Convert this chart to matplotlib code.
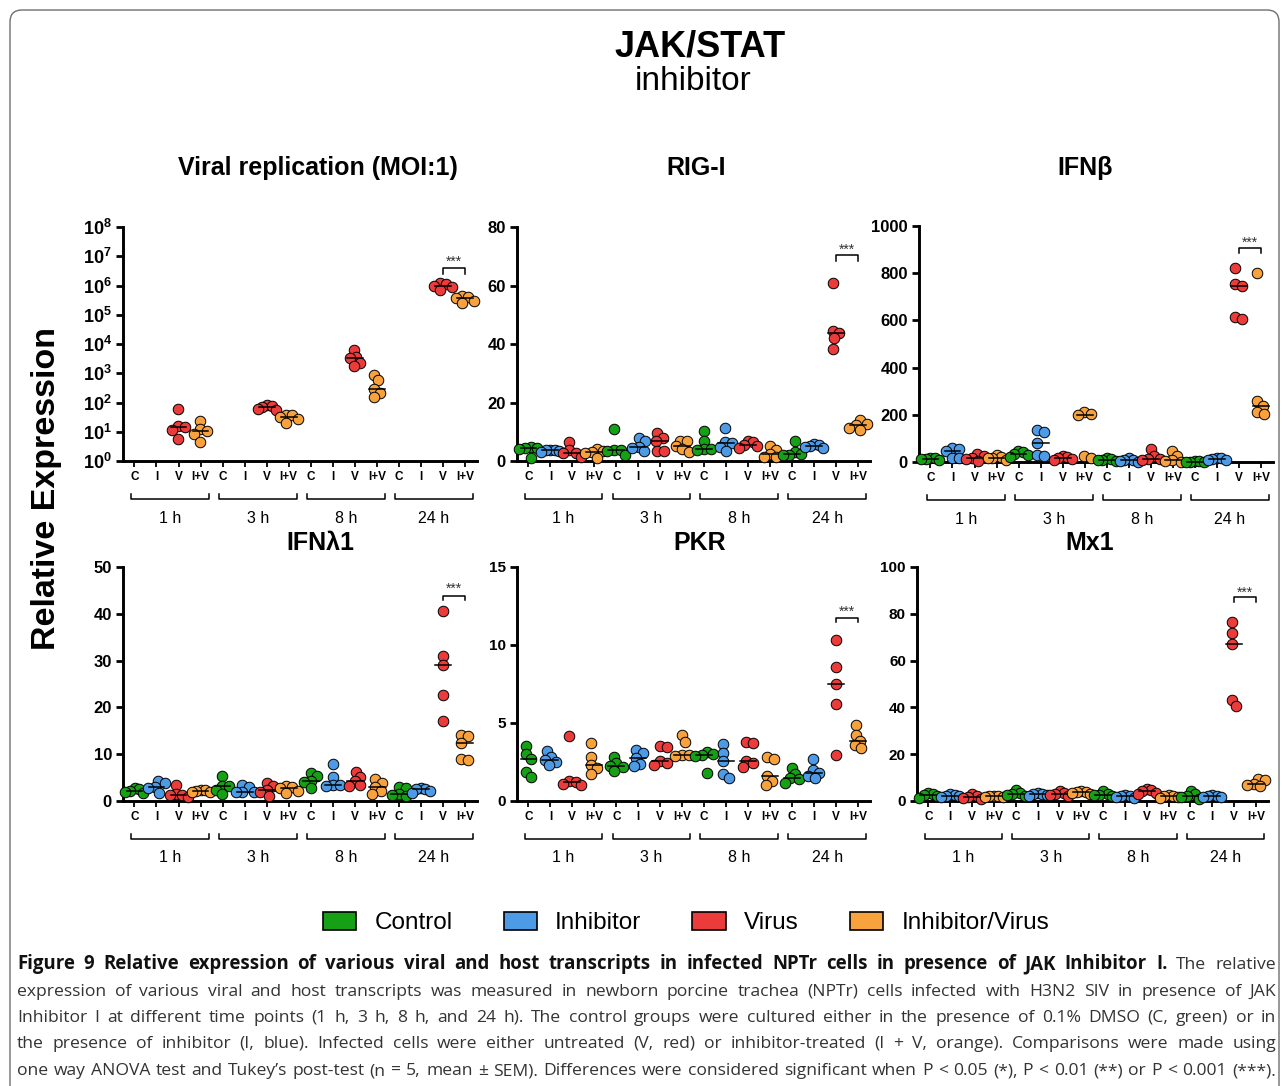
import numpy as np
import matplotlib.pyplot as plt
from matplotlib.patches import FancyBboxPatch, Patch
from matplotlib.transforms import IdentityTransform

plt.rcParams['font.family'] = ['Liberation Sans', 'DejaVu Sans']
plt.rcParams['mathtext.fontset'] = 'custom'
plt.rcParams['mathtext.bf'] = 'Liberation Sans:bold'
plt.rcParams['mathtext.rm'] = 'Liberation Sans'

# ---- data (4 time points x C, I, V, I+V) ----
groups = ['C', 'I', 'V', 'I+V']
times = ['1 h', '3 h', '8 h', '24 h']
colors = ['#16a016', '#4d9be6', '#ec3b3b', '#f8a23e']
legend_labels = ['Control', 'Inhibitor', 'Virus', 'Inhibitor/Virus']

viral = [[], [], [62, 15.5, 14.7, 11.8, 5.5], [24, 12, 10.5, 8.5, 4.3],
         [], [], [85, 75, 68, 62, 55], [38, 36, 33, 28, 20],
         [], [], [6200, 3700, 3200, 2300, 1800], [870, 570, 300, 215, 150],
         [], [], [1.26e6, 1.1e6, 1.0e6, 8.7e5, 7.1e5], [4.4e5, 4.0e5, 3.6e5, 2.95e5, 2.5e5]]

rig_i = [[4.8, 4.6, 4.3, 4.2, 1.0], [3.9, 3.8, 3.6, 3.5, 3.2], [6.6, 3.7, 2.9, 2.6, 1.4], [4.1, 3.5, 3.0, 2.8, 1.1],
         [10.9, 3.8, 3.6, 3.4, 1.9], [8.0, 6.7, 4.8, 4.5, 3.3], [9.5, 7.9, 7.0, 3.5, 3.4], [6.8, 6.7, 5.0, 4.0, 3.0],
         [10.2, 6.7, 4.2, 4.0, 3.8], [11.3, 6.6, 6.3, 4.9, 3.4], [6.7, 6.6, 5.4, 5.0, 4.6], [5.1, 3.8, 2.4, 1.5, 1.2],
         [6.9, 3.2, 2.4, 2.1, 1.9], [5.9, 5.5, 5.2, 4.9, 4.6], [60.8, 44.3, 43.8, 42.0, 38.3], [13.9, 12.8, 12.2, 11.2, 10.5]]

ifnb = [[18, 15, 14, 12, 10], [59, 54, 45, 17, 15], [36, 24, 19, 12, 4], [31, 20, 17, 15, 10],
        [46, 43, 36, 31, 22], [136, 127, 81, 28, 27], [25, 20, 18, 12, 8], [210, 203, 198, 27, 16],
        [15, 12, 10, 8, 5], [18, 10, 8, 4, 2], [53, 26, 14, 13, 10], [47, 27, 8, 4, 2],
        [5, 3, 2, 2, 1], [19, 15, 12, 10, 8], [824, 756, 744, 613, 606], [799, 258, 239, 211, 204]]

ifnl1 = [[2.7, 2.5, 2.2, 2.0, 1.7], [4.3, 3.9, 3.0, 2.8, 1.8], [3.4, 1.5, 1.3, 1.2, 0.9], [2.4, 2.3, 2.2, 2.0, 1.9],
         [5.3, 3.3, 3.1, 2.4, 1.4], [3.5, 3.0, 2.0, 1.9, 1.9], [3.9, 3.1, 2.4, 1.9, 1.0], [3.3, 3.0, 2.8, 2.2, 1.8],
         [6.0, 5.4, 4.3, 4.0, 2.8], [7.9, 5.1, 3.5, 3.4, 3.3], [6.3, 5.1, 4.2, 3.4, 3.3], [4.6, 3.9, 2.9, 2.1, 1.6],
         [3.0, 2.7, 1.4, 1.3, 1.0], [2.8, 2.6, 2.5, 2.2, 1.7], [40.7, 30.9, 29.0, 22.7, 17.2], [14.0, 13.8, 12.4, 9.0, 8.7]]

pkr = [[3.53, 2.99, 2.71, 1.84, 1.52], [3.18, 2.8, 2.63, 2.5, 2.29], [4.17, 1.3, 1.25, 1.1, 1.0], [3.7, 2.84, 2.33, 2.09, 1.71],
       [2.82, 2.41, 2.26, 2.2, 1.9], [3.27, 3.1, 2.78, 2.4, 2.24], [3.5, 3.48, 2.56, 2.45, 2.33], [4.2, 3.78, 2.95, 2.95, 2.9],
       [3.16, 3.0, 2.95, 2.9, 1.82], [3.65, 3.06, 2.56, 1.75, 1.5], [3.76, 3.72, 2.54, 2.44, 2.16], [2.8, 2.67, 1.62, 1.28, 1.05],
       [2.14, 1.75, 1.47, 1.39, 1.15], [2.67, 1.97, 1.82, 1.62, 1.47], [10.32, 8.57, 7.52, 6.22, 2.97], [4.89, 4.23, 3.87, 3.57, 3.4]]

mx1 = [[3.4, 3.0, 2.5, 2.0, 1.2], [2.8, 2.6, 2.3, 2.0, 1.5], [2.9, 2.3, 1.8, 1.4, 1.0], [2.3, 2.2, 2.1, 1.9, 1.6],
       [4.6, 3.5, 3.2, 2.5, 2.0], [3.5, 3.2, 3.0, 2.6, 2.2], [4.3, 3.5, 3.0, 2.7, 2.0], [4.3, 3.9, 3.8, 3.5, 3.2],
       [4.1, 3.0, 2.6, 2.4, 2.0], [2.5, 2.2, 2.0, 1.8, 1.3], [5.3, 4.7, 4.2, 3.3, 2.8], [2.5, 2.3, 2.2, 1.5, 1.2],
       [4.4, 2.9, 2.2, 1.8, 1.0], [2.5, 2.2, 2.0, 1.8, 1.6], [76.5, 72.0, 67.0, 43.0, 40.6], [9.4, 8.8, 7.1, 6.9, 6.3]]

W, H = 1282, 1086
fig = plt.figure(figsize=(W / 100, H / 100), dpi=100)


def swarm(ax, xc, vals, d=7.0, cap=9.0):
    # small beeswarm in pixel space, squeezed to +-cap px, returns x in data units
    tr = ax.transData
    pts = tr.transform(np.column_stack([np.full(len(vals), xc), vals]))
    ppu = tr.transform((xc + 1, vals[0]))[0] - tr.transform((xc, vals[0]))[0]
    placed = []
    for y in pts[:, 1]:
        cands = [0.0]
        for px, py in placed:
            dy = abs(y - py)
            if dy < d:
                dx = np.sqrt(d * d - dy * dy)
                cands += [px - dx, px + dx]
        cands.sort(key=lambda c: (abs(c), -c))
        for c in cands:
            if all((c - px) ** 2 + (y - py) ** 2 >= d * d - 1e-6 for px, py in placed):
                break
        placed.append((c, y))
    off = np.array([p[0] for p in placed])
    off = off - (off.max() + off.min()) / 2
    m = np.abs(off).max()
    if m > cap:
        off = off * cap / m
    return xc + off / ppu


def panel(rect, title, title_xy, data, ylim, yticks, sig, log=False, ylabels=None, tfs=12):
    l, t, r, b = rect
    ax = fig.add_axes([l / W, 1 - b / H, (r - l) / W, (b - t) / H])
    if log:
        ax.set_yscale('log')
    ax.set_xlim(-0.52, 15.55)
    ax.set_ylim(*ylim)
    for s in ['top', 'right']:
        ax.spines[s].set_visible(False)
    for s in ['left', 'bottom']:
        ax.spines[s].set_linewidth(2.1)
    ax.set_yticks(yticks)
    ax.minorticks_off()
    if ylabels is not None:
        ax.set_yticklabels(ylabels)
    ax.tick_params(axis='y', length=5, width=2, labelsize=tfs, pad=3)
    for lab in ax.get_yticklabels():
        lab.set_fontweight('bold')
    ax.set_xticks(range(16))
    ax.set_xticklabels(groups * 4, fontsize=8.5, fontweight='bold')
    ax.tick_params(axis='x', length=4, width=1.3, pad=3)
    ax.patch.set_alpha(0)

    for i, vals in enumerate(data):
        if not vals:
            continue
        xs = swarm(ax, i, vals)
        ax.plot(xs, vals, 'o', ms=7.6, mfc=colors[i % 4], mec='black', mew=0.7,
                ls='', clip_on=False, zorder=3)
        med = np.median(vals)
        ax.plot([i - 0.36, i + 0.36], [med, med], color='black', lw=1.1, zorder=4,
                clip_on=False)

    # time brackets
    xt = ax.get_xaxis_transform()
    hb = (b - t)
    yb = -38 / hb
    for g in range(4):
        x0, x1 = 4 * g - 0.17, 4 * g + 3.37
        ax.plot([x0, x0, x1, x1], [yb + 5 / hb, yb, yb, yb + 5 / hb], color='black',
                lw=1.1, transform=xt, clip_on=False)
        ax.text(4 * g + 1.6, yb - 19 / hb, times[g], transform=xt, ha='center',
                va='center', fontsize=11.5)

    # significance V vs I+V at 24 h
    ys, ytk, ystar = sig
    ax.plot([14, 14, 15, 15], [ytk, ys, ys, ytk], color='black', lw=1.1, clip_on=False)
    ax.text(14.5, ystar, '***', ha='center', va='center', fontsize=10, color='#333333')

    fig.text(title_xy[0] / W, 1 - title_xy[1] / H, title, ha='center', va='center',
             fontsize=18, fontweight='bold')
    return ax


log_labels = [r'$\mathbf{10^{%d}}$' % k for k in range(9)]
panel((123, 227, 477, 461), 'Viral replication (MOI:1)', (318, 168), viral, (1, 1e8),
      [10.0 ** k for k in range(9)], (10 ** 6.59, 10 ** 6.4, 10 ** 6.8), log=True,
      ylabels=log_labels, tfs=13)
panel((517, 227, 870, 461), 'RIG-I', (696, 168), rig_i, (0, 80), [0, 20, 40, 60, 80],
      (70.3, 68.4, 72.2))
panel((919, 226, 1273, 462), 'IFNβ', (1085, 168), ifnb, (0, 1000),
      [0, 200, 400, 600, 800, 1000], (908, 884, 930))
panel((123, 567, 477, 801), 'IFNλ1', (320, 543), ifnl1, (0, 50), [0, 10, 20, 30, 40, 50],
      (43.9, 42.9, 45.3))
panel((517, 567, 870, 801), 'PKR', (700, 543), pkr, (0, 15), [0, 5, 10, 15],
      (11.75, 11.45, 12.1), tfs=11)
panel((917, 567, 1268, 801), 'Mx1', (1090, 543), mx1, (0, 100), [0, 20, 40, 60, 80, 100],
      (87, 85, 89), tfs=11)

# headings
fig.text(700 / W, 1 - 47 / H, 'JAK/STAT', ha='center', va='center', fontsize=26,
         fontweight='bold')
fig.text(693 / W, 1 - 82 / H, 'inhibitor', ha='center', va='center', fontsize=24)
fig.text(47 / W, 1 - 488 / H, 'Relative Expression', rotation=90, ha='center',
         va='center', fontsize=24.5, fontweight='bold')

# legend
handles = [Patch(facecolor=c, edgecolor='black', lw=1.2) for c in colors]
fig.legend(handles, legend_labels, loc='center', bbox_to_anchor=(686 / W, 1 - 923 / H),
           ncol=4, frameon=False, fontsize=17.5, handlelength=1.37, handleheight=0.75,
           handletextpad=0.75, columnspacing=2.1)

# outer rounded frame
fig.add_artist(FancyBboxPatch((10, -30), 1269, H - 10 + 30,
                              boxstyle='round,pad=0,rounding_size=12',
                              transform=IdentityTransform(), fill=False,
                              ec='#6e6e6e', lw=1.0))

# caption, justified word by word
renderer = fig.canvas.get_renderer()
cap_bold = 'Figure 9 Relative expression of various viral and host transcripts in infected NPTr cells in presence of JAK Inhibitor I.'
cap_lines = [
    'The relative',
    'expression of various viral and host transcripts was measured in newborn porcine trachea (NPTr) cells infected with H3N2 SIV in presence of JAK',
    'Inhibitor I at different time points (1 h, 3 h, 8 h, and 24 h). The control groups were cultured either in the presence of 0.1% DMSO (C, green) or in',
    'the presence of inhibitor (I, blue). Infected cells were either untreated (V, red) or inhibitor-treated (I + V, orange). Comparisons were made using',
    'one way ANOVA test and Tukey’s post-test (n = 5, mean ± SEM). Differences were considered significant when P < 0.05 (*), P < 0.01 (**) or P < 0.001 (***).',
]
line_y = [969, 996, 1022, 1048, 1075]


def justify(words, y, x0=17, x1=1276):
    arts = []
    for w, wt in words:
        bold = wt == 'bold'
        arts.append(fig.text(0, 1 - y / H, w, fontsize=13.4 if bold else 12.6,
                             fontweight=wt, family=['Open Sans', 'DejaVu Sans'],
                             va='baseline', color='#111111' if bold else '#333333'))
    widths = [a.get_window_extent(renderer).width for a in arts]
    gap = (x1 - x0 - sum(widths)) / (len(arts) - 1)
    x = x0
    for a, wd in zip(arts, widths):
        a.set_x(x / W)
        x += wd + gap


first = [(w, 'bold') for w in cap_bold.split()] + [(w, 'normal') for w in cap_lines[0].split()]
justify(first, line_y[0])
for txt, y in zip(cap_lines[1:], line_y[1:]):
    justify([(w, 'normal') for w in txt.split()], y)

fig.savefig('out.png', dpi=100)
